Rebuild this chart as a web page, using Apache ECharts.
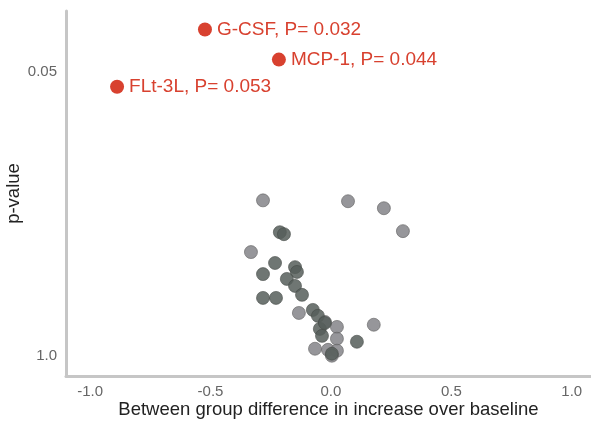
<!DOCTYPE html>
<html>
<head>
<meta charset="utf-8">
<script src="https://cdn.jsdelivr.net/npm/echarts@6/dist/echarts.min.js"></script>
<style>
  html, body { margin: 0; padding: 0; background: #fff; }
  #volcanoChart { width: 591px; height: 421px; }
</style>
</head>
<body>
<div id="volcanoChart"></div>
<script>
// x = between group difference, y = -log10(p)
const labelledNames = ['G-CSF', 'MCP-1', 'FLt-3L'];
const labelledP = ['0.032', '0.044', '0.053'];
const labelledX = [-0.523, -0.216, -0.888];
const labelledY = [1.495, 1.357, 1.233];

const lightX = [-0.282, 0.071, 0.220, 0.299, -0.332, -0.133, 0.025, 0.025, -0.066, -0.012, 0.025, 0.004, 0.178, -0.025];
const lightY = [0.712, 0.708, 0.676, 0.571, 0.475, 0.196, 0.132, 0.078, 0.032, 0.027, 0.023, 0.000, 0.142, 0.155];

const darkX = [-0.212, -0.195, -0.232, -0.282, -0.149, -0.141, -0.183, -0.149, -0.120, -0.282, -0.228, -0.075, -0.054, -0.046, -0.037, 0.004, 0.108, -0.025];
const darkY = [0.566, 0.557, 0.425, 0.374, 0.406, 0.384, 0.352, 0.320, 0.279, 0.265, 0.265, 0.210, 0.183, 0.123, 0.091, 0.009, 0.064, 0.150];

// y tick labels: p-values shown on the -log10 scale
const yTickP = [1.0, 0.05];

const pairs = (xs, ys) => xs.map((x, i) => [x, ys[i]]);

const yStep = -Math.log10(0.05) / 14;
const yTickVals = yTickP.map(p => -Math.log10(p));

const chart = echarts.init(document.getElementById('volcanoChart'));
const option = {
    backgroundColor: '#ffffff',
    animation: false,
    grid: {
        left: 66,
        right: 0,
        top: 11,
        bottom: 45,
        containLabel: false,
        outerBoundsMode: 'none'
    },
    xAxis: {
        type: 'value',
        min: -1.1,
        max: 1.08,
        interval: 0.1,
        name: 'Between group difference in increase over baseline',
        nameLocation: 'middle',
        nameGap: 24,
        nameMoveOverlap: false,
        nameTextStyle: {
            fontFamily: 'Liberation Sans',
            fontSize: 18.5,
            color: '#222'
        },
        axisLine: { onZero: false, lineStyle: { color: '#c6c6c6', width: 3 } },
        axisTick: { show: false },
        splitLine: { show: false },
        axisLabel: {
            interval: 0,
            margin: 8,
            fontFamily: 'Liberation Sans',
            fontSize: 15,
            color: '#666',
            formatter: function (v) {
                const twice = v * 2;
                if (Math.abs(twice - Math.round(twice)) < 1e-6 && Math.abs(v) <= 1.0001) {
                    return (Math.round(twice) / 2).toFixed(1);
                }
                return '';
            }
        }
    },
    yAxis: {
        type: 'value',
        min: -yStep,
        max: yStep * 17,
        interval: yStep,
        name: 'p-value',
        nameLocation: 'middle',
        nameGap: 43,
        nameMoveOverlap: false,
        nameTextStyle: {
            fontFamily: 'Liberation Sans',
            fontSize: 18.5,
            color: '#222'
        },
        axisLine: { show: true, onZero: false, lineStyle: { color: '#c6c6c6', width: 3 } },
        axisTick: { show: false },
        splitLine: { show: false },
        axisLabel: {
            margin: 9,
            fontFamily: 'Liberation Sans',
            fontSize: 15,
            color: '#666',
            formatter: function (v) {
                for (let i = 0; i < yTickVals.length; i++) {
                    if (Math.abs(v - yTickVals[i]) < 1e-6) {
                        return yTickP[i] === 1 ? '1.0' : String(yTickP[i]);
                    }
                }
                return '';
            }
        }
    },
    series: [
        {
            type: 'scatter',
            clip: false,
            symbolSize: 13,
            data: pairs(lightX, lightY),
            itemStyle: {
                color: 'rgba(132,132,136,0.85)',
                borderColor: 'rgba(95,95,95,0.6)',
                borderWidth: 1,
                opacity: 1
            }
        },
        {
            type: 'scatter',
            clip: false,
            symbolSize: 13,
            data: pairs(darkX, darkY),
            itemStyle: {
                color: 'rgba(86,94,90,0.85)',
                borderColor: 'rgba(70,75,72,0.6)',
                borderWidth: 1,
                opacity: 1
            }
        },
        {
            type: 'scatter',
            clip: false,
            symbolSize: 14,
            data: labelledX.map((x, i) => ({
                value: [x, labelledY[i]],
                name: labelledNames[i] + ', P= ' + labelledP[i]
            })),
            itemStyle: { color: '#d8412f', opacity: 1 },
            label: {
                show: true,
                position: 'right',
                distance: 5,
                formatter: '{b}',
                fontFamily: 'Liberation Sans',
                fontSize: 19,
                color: '#d8412f'
            }
        }
    ]
};
option && chart.setOption(option);
</script>
</body>
</html>
